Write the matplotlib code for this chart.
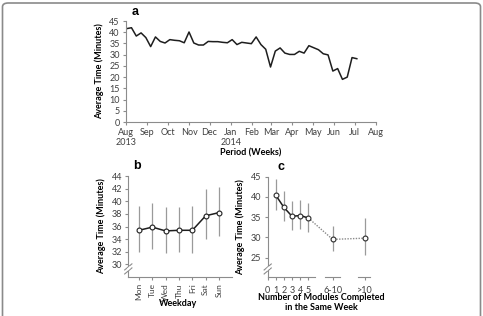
import numpy as np
import pandas as pd
import matplotlib
matplotlib.use('Agg')
import matplotlib.pyplot as plt
from matplotlib.patches import FancyBboxPatch

plt.rcParams['font.family'] = ['Lato', 'DejaVu Sans']

# Panel a: weekly average time
week_start = '2013-08-02'
weekly_time = [41.6, 42.0, 38.3, 39.7, 37.6, 33.6, 37.9, 35.9, 35.2, 36.7,
               36.4, 36.2, 35.3, 40.1, 35.2, 34.3, 34.3, 35.9, 35.8, 35.8,
               35.5, 35.3, 36.7, 34.5, 35.5, 35.2, 34.9, 37.9, 34.5, 32.4,
               24.5, 31.6, 33.0, 30.7, 30.1, 30.1, 31.5, 30.7, 34.0, 33.1,
               32.2, 30.4, 29.9, 22.7, 23.8, 19.0, 20.0, 28.7, 28.2]
month_labels = ['Aug\n2013', 'Sep', 'Oct', 'Nov', 'Dec', 'Jan\n2014', 'Feb',
                'Mar', 'Apr', 'May', 'Jun', 'Jul', 'Aug']

# Panel b: weekday
weekdays = ['Mon', 'Tue', 'Wed', 'Thu', 'Fri', 'Sat', 'Sun']
weekday_mean = [35.4, 35.9, 35.3, 35.4, 35.4, 37.7, 38.2]
weekday_hi = [39.2, 39.7, 39.1, 39.1, 39.3, 41.9, 42.2]
weekday_lo = [32.0, 32.5, 31.85, 31.95, 31.85, 34.0, 34.5]

# Panel c: modules per week
module_pos = [1, 2, 3, 4, 5, 8, 12]
module_labels = ['0', '1', '2', '3', '4', '5', '6-10', '>10']
module_ticks = [0, 1, 2, 3, 4, 5, 8, 12]
module_mean = [40.4, 37.4, 35.2, 35.4, 34.8, 29.5, 29.8]
module_hi = [44.5, 41.4, 39.0, 39.2, 38.5, 32.7, 34.7]
module_lo = [36.7, 34.1, 31.9, 32.0, 31.4, 26.7, 25.7]

W, H = 483, 316
fig = plt.figure(figsize=(W / 100, H / 100), dpi=100)

# rounded frame around the figure
frame = FancyBboxPatch((2.5 / W, -20 / H), 478 / W, 333 / H,
                       boxstyle='round,pad=0,rounding_size=0.012',
                       transform=fig.transFigure, fill=False,
                       edgecolor='#8a8a8a', linewidth=1.2)
fig.patches.append(frame)

axis_col = '#8c8c8c'
tick_col = '#404040'
fs = 6.5


def px_axes(left, top, right, bottom):
    return fig.add_axes([left / W, 1 - bottom / H, (right - left) / W, (bottom - top) / H])


def px_text(x, y, s, **kw):
    fig.text(x / W, 1 - y / H, s, ha='center', va='center', **kw)


def style(ax):
    for s in ['top', 'right']:
        ax.spines[s].set_visible(False)
    for s in ['left', 'bottom']:
        ax.spines[s].set_color(axis_col)
        ax.spines[s].set_linewidth(0.8)
    ax.tick_params(colors=axis_col, labelcolor=tick_col, labelsize=fs,
                   length=2.5, width=0.8, pad=2)


def y_break(ax):
    # little "//" on the left spine
    for dy in (0.06, 0.10):
        ax.plot([-0.035, 0.035], [dy - 0.03, dy + 0.03], transform=ax.transAxes,
                color=axis_col, lw=0.8, clip_on=False)
    ax.fill_between([-0.01, 0.01], [0.075, 0.095], [0.085, 0.105],
                    transform=ax.transAxes, color='white', clip_on=False, zorder=5)


# ---- a ----
ax = px_axes(126, 21, 376, 122)
style(ax)
dates = pd.date_range(week_start, periods=len(weekly_time), freq='7D')
ax.plot(dates, weekly_time, color='#1e1e1e', lw=1.1)
ax.set_ylim(0, 45)
ax.set_yticks(range(0, 46, 5))
month_ticks = pd.date_range('2013-08-01', '2014-08-01', freq='MS')
ax.set_xlim(month_ticks[0], month_ticks[-1])
ax.set_xticks(month_ticks)
ax.set_xticklabels(month_labels, linespacing=1.05)
ax.set_ylabel('Average Time (Minutes)', fontsize=fs, fontweight='bold', labelpad=4)
px_text(251, 153, 'Period (Weeks)', fontsize=fs, fontweight='bold')
fig.text(132 / W, 1 - 12 / H, 'a', fontsize=9, fontweight='bold',
         family='Liberation Sans', va='center')

# ---- b ----
ax = px_axes(128.3, 176, 231.7, 277)
style(ax)
x = np.arange(1, len(weekdays) + 1)
ax.errorbar(x, weekday_mean,
            yerr=[np.subtract(weekday_mean, weekday_lo), np.subtract(weekday_hi, weekday_mean)],
            fmt='none', ecolor='#9a9a9a', elinewidth=0.9, capsize=0)
ax.plot(x, weekday_mean, color='#1e1e1e', lw=1.1, marker='o', ms=3.5,
        mfc='white', mec='#1e1e1e', mew=0.8)
ax.set_ylim(28, 44)
ax.set_yticks(range(30, 45, 2))
ax.set_xlim(0.2, 7.95)
ax.set_xticks(x)
ax.set_xticklabels(weekdays, rotation=90, fontsize=6)
ax.tick_params(axis='x', pad=2)
ax.set_ylabel('Average Time (Minutes)', fontsize=fs, fontweight='bold', labelpad=4)
px_text(178, 304, 'Weekday', fontsize=fs, fontweight='bold')
y_break(ax)
fig.text(133 / W, 1 - 166 / H, 'b', fontsize=9, fontweight='bold',
         family='Liberation Sans', va='center')

# ---- c ----
ax = px_axes(267.7, 176.7, 370, 277)
style(ax)
ax.spines['bottom'].set_visible(False)
for a0, a1 in [(0, 5.8), (7.1, 8.9), (11.1, 12.6)]:
    ax.plot([a0, a1], [0, 0], transform=ax.get_xaxis_transform(),
            color=axis_col, lw=0.8, clip_on=False)
ax.errorbar(module_pos, module_mean,
            yerr=[np.subtract(module_mean, module_lo), np.subtract(module_hi, module_mean)],
            fmt='none', ecolor='#9a9a9a', elinewidth=0.9, capsize=0)
ax.plot(module_pos[4:], module_mean[4:], color='#8a8a8a', lw=1.0, ls=(0, (1, 1)))
ax.plot(module_pos[:5], module_mean[:5], color='#1e1e1e', lw=1.1)
ax.plot(module_pos, module_mean, ls='none', marker='o', ms=3.5,
        mfc='white', mec='#2a2a2a', mew=0.8)
ax.set_ylim(20.2, 45)
ax.set_yticks(range(25, 46, 5))
ax.set_xlim(0, 12.6)
ax.set_xticks(module_ticks)
ax.set_xticklabels(module_labels)
ax.tick_params(axis='x', pad=4)
ax.set_ylabel('Average Time (Minutes)', fontsize=fs, fontweight='bold', labelpad=4)
px_text(321, 298, 'Number of Modules Completed', fontsize=fs, fontweight='bold')
px_text(321, 308, 'in the Same Week', fontsize=fs, fontweight='bold')
y_break(ax)
fig.text(277 / W, 1 - 167 / H, 'c', fontsize=9, fontweight='bold',
         family='Liberation Sans', va='center')

fig.savefig('out.png', dpi=100)
